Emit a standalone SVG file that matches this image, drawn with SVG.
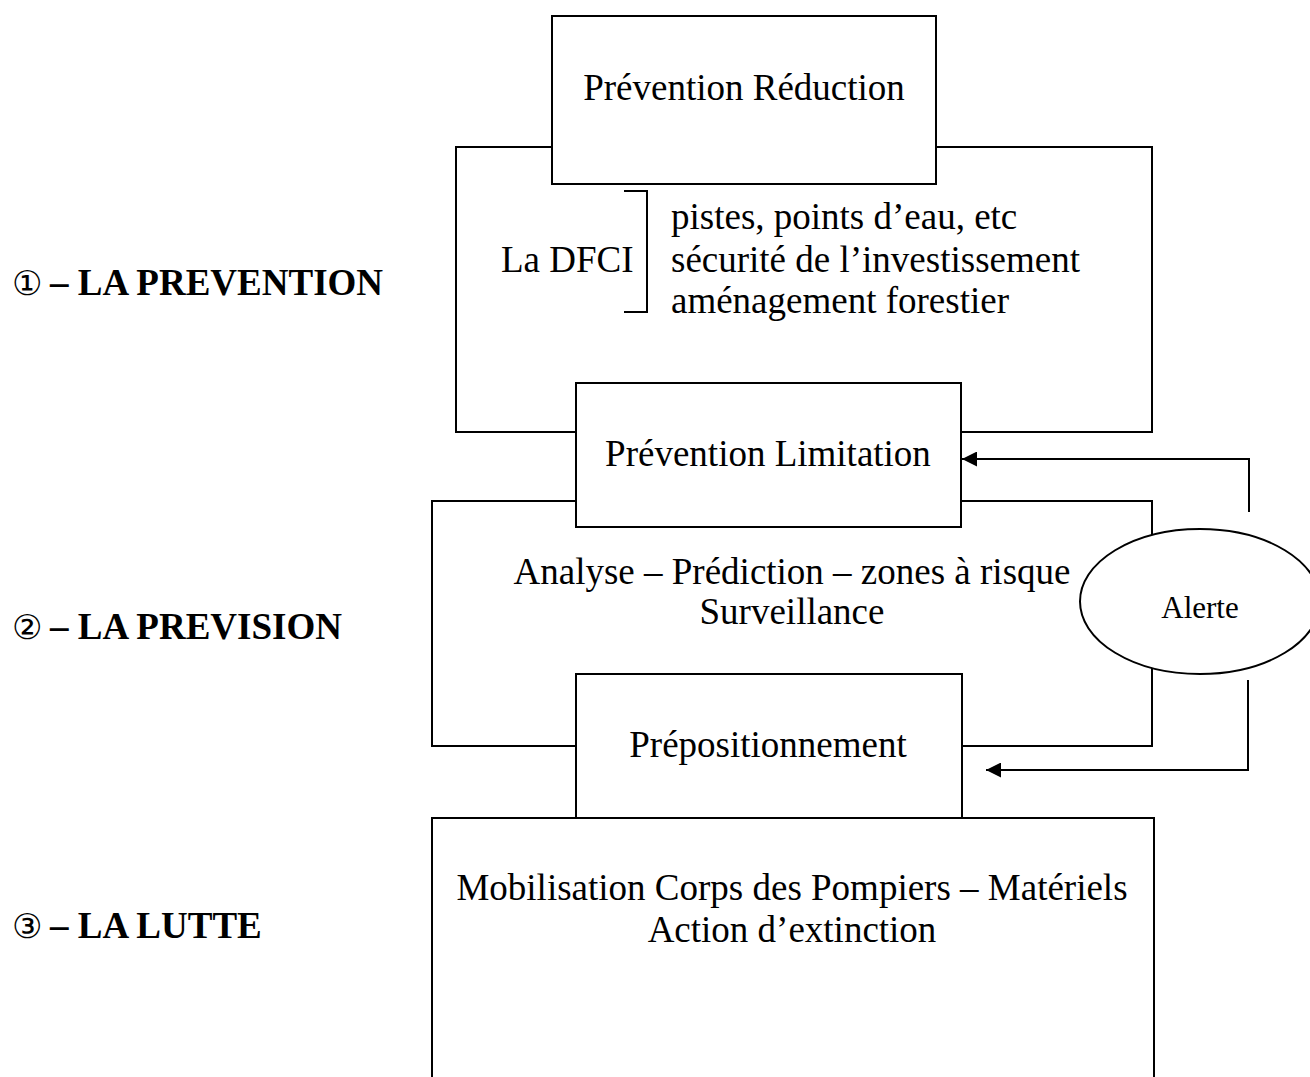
<svg xmlns="http://www.w3.org/2000/svg" width="1310" height="1077" viewBox="0 0 1310 1077">
<style>
  .ln{fill:none;stroke:#000;stroke-width:2}
  .bx{fill:#fff;stroke:#000;stroke-width:2}
  .t{font-family:"Liberation Serif","Times New Roman",serif;font-size:37px;fill:#000}
  .c{text-anchor:middle}
  .h{font-family:"Liberation Serif","Times New Roman",serif;font-size:37px;font-weight:bold;fill:#000}
  .d{font-family:"DejaVu Sans",sans-serif;font-weight:normal;font-size:34px}
</style>
<defs>
  <marker id="ah" viewBox="0 0 10 10" refX="10" refY="5" markerWidth="15" markerHeight="15" markerUnits="userSpaceOnUse" orient="auto">
    <path d="M0,0 L10,5 L0,10 z" fill="#000"/>
  </marker>
</defs>
<rect width="1310" height="1077" fill="#fff"/>

<g id="labels">
  <text class="h" x="12" y="295"><tspan class="d">①</tspan><tspan x="50">– LA PREVENTION</tspan></text>
  <text class="h" x="12" y="639"><tspan class="d">②</tspan><tspan x="50">– LA PREVISION</tspan></text>
  <text class="h" x="12" y="938"><tspan class="d">③</tspan><tspan x="50">– LA LUTTE</tspan></text>
</g>

<g id="frames">
  <path class="ln" d="M552,147 H456 V432 H576 M936,147 H1152 V432 H961"/>
  <path class="ln" d="M576,501 H432 V746 H576 M961,501 H1152 V746 H962"/>
  <path class="ln" d="M576,818 H432 V1080 M962,818 H1154 V1080"/>
  <path class="ln" d="M624,191 H647 V312 H624"/>
</g>

<g id="node-reduction">
  <rect class="bx" x="552" y="16" width="384" height="168"/>
  <text class="t c" x="744" y="100">Prévention Réduction</text>
</g>

<g id="node-dfci">
  <text class="t" x="501" y="272">La DFCI</text>
  <text class="t" x="671" y="229">pistes, points d’eau, etc</text>
  <text class="t" x="671" y="272">sécurité de l’investissement</text>
  <text class="t" x="671" y="313">aménagement forestier</text>
</g>

<g id="node-limitation">
  <rect class="bx" x="576" y="383" width="385" height="144"/>
  <text class="t c" x="768" y="466">Prévention Limitation</text>
</g>

<g id="node-prevision">
  <text class="t c" x="792" y="584">Analyse – Prédiction – zones à risque</text>
  <text class="t c" x="792" y="624">Surveillance</text>
</g>

<g id="node-alerte">
  <ellipse class="bx" cx="1200" cy="601.5" rx="120" ry="72.5"/>
  <text class="t c" x="1200" y="618" style="font-size:31px">Alerte</text>
</g>

<g id="node-prepositionnement">
  <rect class="bx" x="576" y="674" width="386" height="144"/>
  <text class="t c" x="768" y="757">Prépositionnement</text>
</g>

<g id="node-lutte">
  <text class="t c" x="792" y="900">Mobilisation Corps des Pompiers – Matériels</text>
  <text class="t c" x="792" y="942">Action d’extinction</text>
</g>

<g id="connectors">
  <path class="ln" d="M1249,512 V459 H962" marker-end="url(#ah)"/>
  <path class="ln" d="M1248,680 V770 H986" marker-end="url(#ah)"/>
</g>
</svg>
